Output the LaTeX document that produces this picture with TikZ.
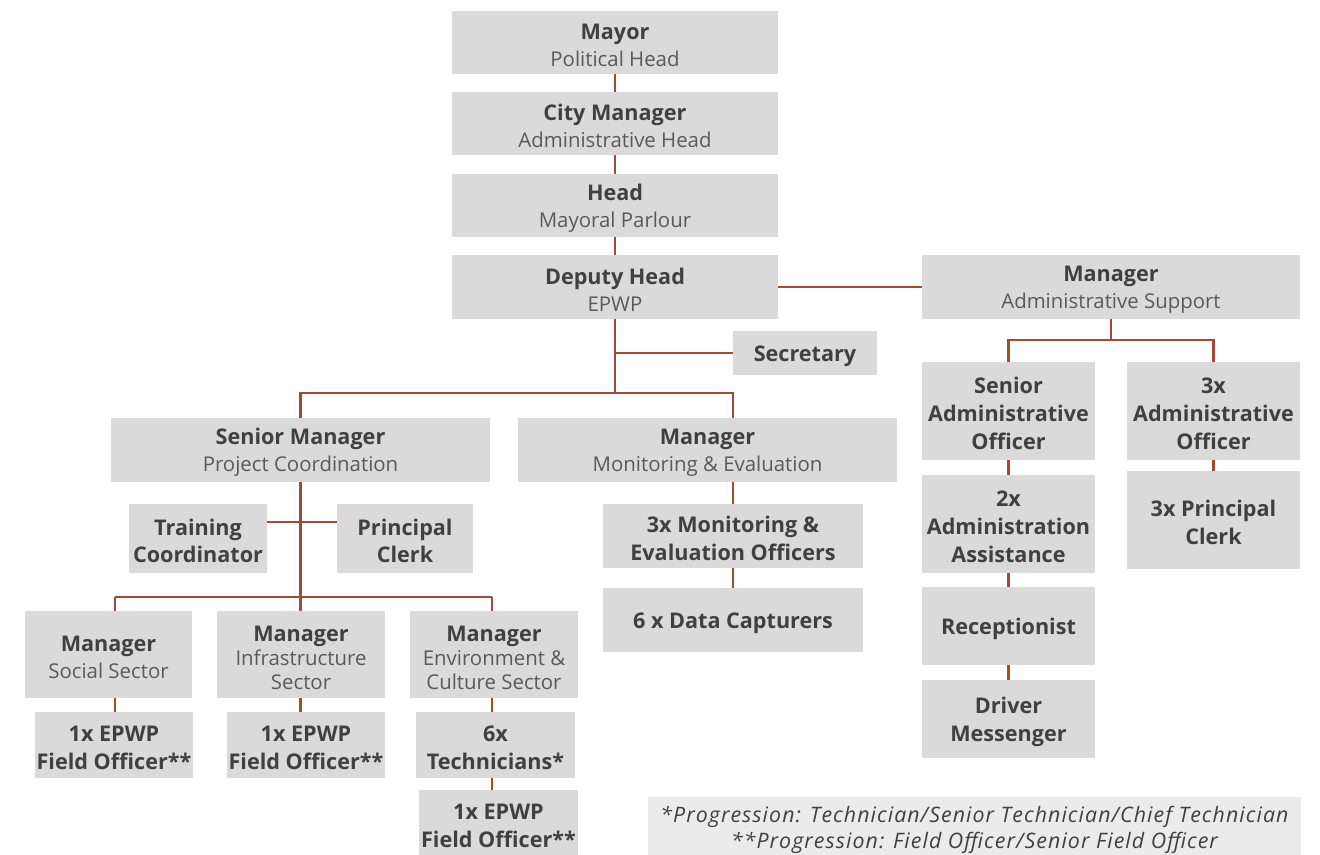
\documentclass[tikz,border=0pt]{standalone}
\usepackage{fontspec}
\setmainfont{Open Sans}
\usetikzlibrary{backgrounds,calc}
\definecolor{boxfill}{HTML}{DADADA}
\definecolor{notefill}{HTML}{EBEBEB}
\definecolor{conncol}{HTML}{A24A36}
\definecolor{txtbold}{HTML}{404040}
\definecolor{txtreg}{HTML}{5A5A5A}
\newcommand\rolesub[1]{{\mdseries\fontsize{15.3}{20.5}\selectfont\color{txtreg}#1}}
\newcommand\ts{\rule{0pt}{16pt}}
\tikzset{
  box/.style={fill=boxfill, draw=none, inner sep=0pt, align=center,
    font=\fontsize{16.2}{20.5}\selectfont\bfseries, text=txtbold},
  tight/.style={font=\fontsize{16.2}{18}\selectfont\bfseries},
  wide/.style={font=\fontsize{16.2}{21}\selectfont\bfseries},
  wh/.style 2 args={minimum width=#1*0.75pt, minimum height=#2*0.75pt},
  conn/.style={draw=conncol, line width=2.2pt},
  notebox/.style={fill=notefill, draw=none, inner sep=0pt, align=center,
    font=\fontsize{16}{19.5}\selectfont\itshape\addfontfeature{LetterSpace=5}, text=txtbold},
}
\begin{document}
\begin{tikzpicture}[x=0.75pt, y=-0.75pt]
\useasboundingbox (0,0) rectangle (1320,855);
% top chain
\node[box, wh={326}{63}] (mayor)  at (615,42.5)  {\ts Mayor\\\rolesub{Political Head}};
\node[box, wh={326}{63}] (city)   at (615,123.5) {\ts City Manager\\\rolesub{Administrative Head}};
\node[box, wh={326}{63}] (head)   at (615,205.5) {\ts Head\\\rolesub{Mayoral Parlour}};
\node[box, wh={326}{64}] (deputy) at (615,287)   {\ts Deputy Head\\\rolesub{EPWP}};
\node[box, wh={378}{64}] (admin)  at (1111,287)  {\ts Manager\\\rolesub{Administrative Support}};
\node[box, wh={144}{44}] (secretary) at (805,353) {\ts Secretary};
% second level
\node[box, wh={379}{64}] (sm) at (300.5,450) {\ts Senior Manager\\\rolesub{Project Coordination}};
\node[box, wh={379}{64}] (me) at (707.5,450) {\ts Manager\\\rolesub{Monitoring \& Evaluation}};
\node[box, wh={138}{69}] (training) at (198,538.5) {\ts Training\\Coordinator};
\node[box, wh={136}{69}] (pclerk)   at (405,538.5) {\ts Principal\\Clerk};
\node[box, wh={260}{64}] (meo)  at (733,536) {\ts 3x Monitoring \&\\Evaluation Officers};
\node[box, wh={260}{64}] (data) at (733,620) {\ts 6 x Data Capturers};
% sector managers
\node[box, wh={167}{87}] (social) at (108.5,654.5) {\ts Manager\\\rolesub{Social Sector}};
\node[box, tight, wh={168}{87}] (infra) at (301,654.5) {\ts Manager\\\rolesub{Infrastructure}\\\rolesub{Sector}};
\node[box, tight, wh={168}{87}] (env) at (494,654.5) {\ts Manager\\\rolesub{Environment \&}\\\rolesub{Culture Sector}};
\node[box, wh={158}{66}] (fo1)  at (114,745)   {\ts 1x EPWP\\Field Officer**};
\node[box, wh={158}{66}] (fo2)  at (306,745)   {\ts 1x EPWP\\Field Officer**};
\node[box, wh={159}{66}] (tech) at (495.5,745) {\ts 6x\\Technicians*};
\node[box, wh={159}{66}] (fo3)  at (498.5,823) {\ts 1x EPWP\\Field Officer**};
% admin support branch
\node[box, wide, wh={173}{98}] (sao) at (1008.5,411) {\ts Senior\\Administrative\\Officer};
\node[box, wide, wh={173}{98}] (ao)  at (1213.5,411) {\ts 3x\\Administrative\\Officer};
\node[box, wide, wh={173}{98}] (aa)  at (1008.5,524) {\ts 2x\\Administration\\Assistance};
\node[box, wide, wh={173}{98}] (pc3) at (1213.5,520) {\ts 3x Principal\\Clerk};
\node[box, wide, wh={173}{78}] (recep)  at (1008.5,626) {\ts Receptionist};
\node[box, wide, wh={173}{78}] (driver) at (1008.5,719) {\ts Driver\\Messenger};
% note
\node[notebox, wh={653}{66}] (note) at (974.5,830)
  {*Progression: Technician/Senior Technician/Chief Technician\\**Progression: Field Officer/Senior Field Officer};
% junction coordinates
\coordinate (b1) at (615,393);
\coordinate (c1) at (115,597);
\coordinate (c3) at (492,597);
\coordinate (t1) at (302,522);
\coordinate (a1) at (1111,340);
\begin{scope}[on background layer]
  \draw[conn] (mayor) -- (city) -- (head) -- (deputy);
  \draw[conn] (deputy) -- (admin);
  \draw[conn] (deputy) -- (b1);
  \draw[conn] (deputy |- secretary) -- (secretary);
  \draw[conn] (b1) -| (sm);
  \draw[conn] (b1) -| (meo);
  \draw[conn] (meo) -- (data);
  \draw[conn] (sm) -- (sm |- fo2);
  \draw[conn] (training.east |- t1) -- (pclerk.west |- t1);
  \draw[conn] (c1) -- (c3);
  \draw[conn] (c1) -- (c1 |- fo1);
  \draw[conn] (c3) -- (c3 |- fo3);
  \draw[conn] (admin) -- (a1);
  \draw[conn] (sao) |- (a1) -| (ao);
  \draw[conn] (sao) -- (driver);
  \draw[conn] (ao) -- (pc3);
\end{scope}
\end{tikzpicture}
\end{document}
